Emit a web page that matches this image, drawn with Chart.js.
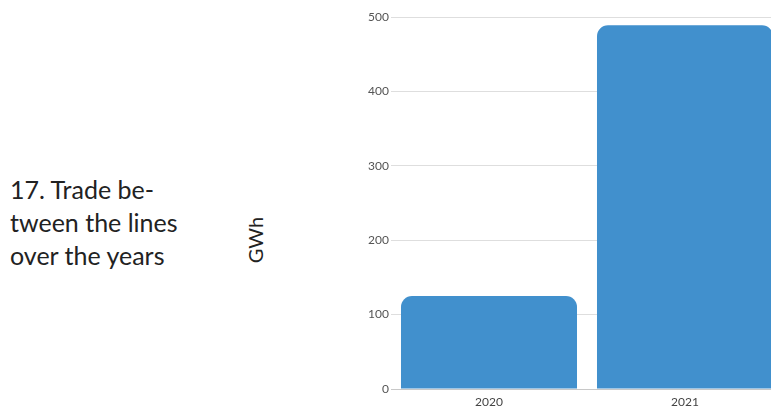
<!DOCTYPE html>
<html>
<head>
<meta charset="utf-8">
<script src="https://cdn.jsdelivr.net/npm/chart.js@4.4.0/dist/chart.umd.min.js"></script>
<style>
  html, body { margin: 0; padding: 0; background: #fff; overflow: hidden; }
  body { width: 771px; height: 412px; position: relative; font-family: Lato, "Open Sans", sans-serif; }
  .heading {
    position: absolute; left: 10px; top: 173px;
    font-size: 25px; line-height: 33px; color: #222;
  }
  .unit {
    position: absolute; left: 255px; top: 240px;
    font-size: 20px; color: #222;
    transform: translate(-50%, -50%) rotate(-90deg);
    white-space: nowrap;
  }
  .wrap { position: absolute; left: 0; top: 0; width: 783px; height: 412px; }
</style>
</head>
<body>
<div class="heading">17. Trade be-<br>tween the lines<br>over the years</div>
<div class="unit">GWh</div>
<div class="wrap"><canvas id="chartCanvas"></canvas></div>
<script>
  const years = ['2020', '2021'];
  const tradeGWh = [125, 489];
  const yTicks = [0, 100, 200, 300, 400, 500];

  const ctx = document.getElementById('chartCanvas').getContext('2d');
  const chart = new Chart(ctx, {
    type: 'bar',
    data: {
      labels: years,
      datasets: [{
        label: 'GWh',
        data: tradeGWh,
        backgroundColor: '#4190cd',
        borderRadius: { topLeft: 11, topRight: 11 },
        borderSkipped: 'bottom',
        categoryPercentage: 1,
        barPercentage: 0.898
      }]
    },
    options: {
      responsive: true,
      maintainAspectRatio: false,
      animation: false,
      layout: { padding: { top: 17, bottom: 0, left: 0, right: 0 } },
      plugins: {
        legend: { display: false },
        tooltip: { enabled: false }
      },
      scales: {
        y: {
          min: 0,
          max: 500,
          afterBuildTicks: scale => { scale.ticks = yTicks.map(v => ({ value: v })); },
          afterFit: scale => { scale.width = 391; },
          border: { display: false },
          grid: { color: '#dedede', drawTicks: false },
          ticks: {
            padding: 2,
            color: '#555',
            font: { family: 'Lato', size: 12 }
          }
        },
        x: {
          afterFit: scale => { scale.height = 23; },
          border: { display: true, color: '#c8c8c8', width: 1 },
          grid: { display: false, drawTicks: false },
          ticks: {
            padding: 6,
            color: '#444',
            font: { family: 'Lato', size: 12 }
          }
        }
      }
    }
  });
</script>
</body>
</html>
